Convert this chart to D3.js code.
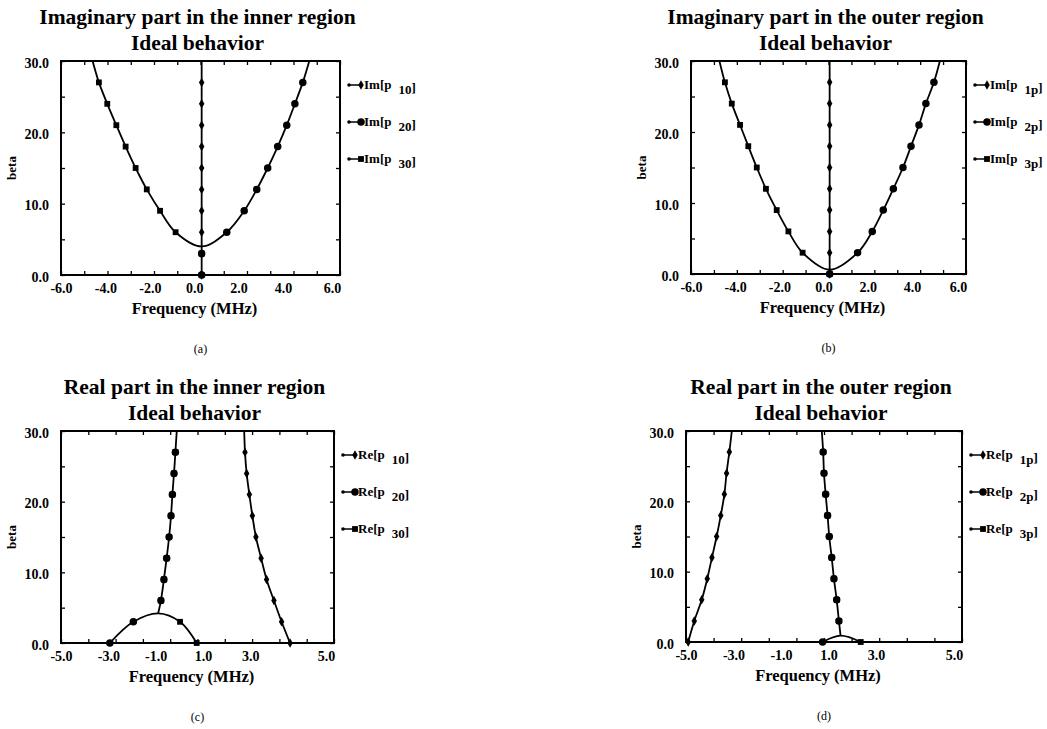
<!DOCTYPE html>
<html>
<head>
<meta charset="utf-8">
<title>Ideal behavior</title>
<script src="https://cdn.jsdelivr.net/npm/d3@7"></script>
<style>
  body { margin: 0; background: #fff; }
  text { font-family: "Liberation Serif", "Times New Roman", serif; fill: #000; }
  .title { font-size: 21.5px; font-weight: bold; }
  .tick text { font-size: 14px; font-weight: bold; }
  .xlab { font-size: 16.5px; font-weight: bold; }
  .ylab { font-size: 13px; font-weight: bold; }
  .legend text { font-size: 13px; font-weight: bold; }
  .caption { font-size: 12px; }
  .box { fill: none; stroke: #000; stroke-width: 2; }
  .curve { fill: none; stroke: #000; stroke-width: 1.8; }
  .minor line { stroke: #000; stroke-width: 1.3; }
</style>
</head>
<body>
<svg id="chart" width="1047" height="729"></svg>
<script>
// beta values where the markers sit
var betaSteps = [0, 3, 6, 9, 12, 15, 18, 21, 24, 27];

// (a) imaginary part, inner region: frequency (MHz) at each beta step
var imInP10 = [0.05, 0.05, 0.05, 0.05, 0.05, 0.05, 0.05, 0.05, 0.05, 0.05];
var imInP20 = [0.05, 0.05, 1.13, 1.88, 2.42, 2.89, 3.32, 3.71, 4.06, 4.40];
var imInP30 = [0.05, 0.05, -1.07, -1.74, -2.31, -2.79, -3.22, -3.62, -4.01, -4.37];
var imInCurves = [
  [[0.05, 0], [0.05, 30]],
  [[-4.64, 30], [-4.37, 27], [-4.01, 24], [-3.62, 21], [-3.22, 18], [-2.79, 15], [-2.31, 12], [-1.74, 9], [-1.07, 6],
   [0.05, 4], [1.13, 6], [1.88, 9], [2.42, 12], [2.89, 15], [3.32, 18], [3.71, 21], [4.06, 24], [4.40, 27], [4.68, 30]]
];

// (b) imaginary part, outer region
var imOutP1p = [0.05, 0.05, 0.05, 0.05, 0.05, 0.05, 0.05, 0.05, 0.05, 0.05];
var imOutP2p = [0.05, 1.27, 1.91, 2.39, 2.83, 3.25, 3.60, 3.95, 4.25, 4.60];
var imOutP3p = [0.05, -1.13, -1.75, -2.26, -2.73, -3.13, -3.50, -3.86, -4.22, -4.52];
var imOutCurves = [
  [[0.05, 0], [0.05, 30]],
  [[-4.76, 30], [-4.52, 27], [-4.22, 24], [-3.86, 21], [-3.50, 18], [-3.13, 15], [-2.73, 12], [-2.26, 9], [-1.75, 6], [-1.13, 3],
   [0.05, 0.6], [1.27, 3], [1.91, 6], [2.39, 9], [2.83, 12], [3.25, 15], [3.60, 18], [3.95, 21], [4.25, 24], [4.60, 27], [4.86, 30]]
];

// (c) real part, inner region
var reInP10 = [3.39, 3.08, 2.80, 2.53, 2.33, 2.14, 2.01, 1.90, 1.80, 1.74];
var reInP20 = [-3.21, -2.35, -1.34, -1.23, -1.13, -1.04, -0.97, -0.92, -0.86, -0.81];
var reInP30 = [-0.03, -0.64, -1.34, -1.23, -1.13, -1.04, -0.97, -0.92, -0.86, -0.81];
var reInCurves = [
  [[3.39, 0], [3.08, 3], [2.80, 6], [2.53, 9], [2.33, 12], [2.14, 15], [2.01, 18], [1.90, 21], [1.80, 24], [1.74, 27], [1.71, 30]],
  [[-3.21, 0], [-2.35, 3], [-1.44, 4.2], [-0.64, 3], [-0.03, 0]],
  [[-1.44, 4.2], [-1.34, 6], [-1.23, 9], [-1.13, 12], [-1.04, 15], [-0.97, 18], [-0.92, 21], [-0.86, 24], [-0.81, 27], [-0.76, 30]]
];

// (d) real part, outer region
var reOutP1p = [-4.92, -4.70, -4.43, -4.23, -4.06, -3.89, -3.74, -3.61, -3.53, -3.43];
var reOutP2p = [-0.05, 0.54, 0.46, 0.36, 0.28, 0.19, 0.13, 0.06, 0.00, -0.03];
var reOutP3p = [1.33, 0.54, 0.46, 0.36, 0.28, 0.19, 0.13, 0.06, 0.00, -0.03];
var reOutCurves = [
  [[-4.92, 0], [-4.70, 3], [-4.43, 6], [-4.23, 9], [-4.06, 12], [-3.89, 15], [-3.74, 18], [-3.61, 21], [-3.53, 24], [-3.43, 27], [-3.34, 30]],
  [[0.60, 0.9], [0.54, 3], [0.46, 6], [0.36, 9], [0.28, 12], [0.19, 15], [0.13, 18], [0.06, 21], [0.00, 24], [-0.03, 27], [-0.08, 30]],
  [[-0.05, 0], [0.60, 0.9], [1.33, 0]]
];

var xTicksIm = [-6, -4, -2, 0, 2, 4, 6];
var xTicksRe = [-5, -3, -1, 1, 3, 5];
var yTicks = [0, 10, 20, 30];

// labSp: spacing the old plot program used between x labels (last one sits at the right edge)
var panels = [
  {box: [61, 61, 340, 275], xd: [-6, 6], xt: xTicksIm, labSp: 44.4, curves: imInCurves,
   series: [imInP30, imInP20, imInP10], names: ['Im[p', '10', '20', '30'],
   title: 'Imaginary part in the inner region', cap: '(a)'},
  {box: [691, 61, 966, 274], xd: [-6, 6], xt: xTicksIm, labSp: 44.2, curves: imOutCurves,
   series: [imOutP3p, imOutP2p, imOutP1p], names: ['Im[p', '1p', '2p', '3p'],
   title: 'Imaginary part in the outer region', cap: '(b)'},
  {box: [61, 431, 334, 643], xd: [-5, 5], xt: xTicksRe, labSp: 47.3, curves: reInCurves,
   series: [reInP30, reInP20, reInP10], names: ['Re[p', '10', '20', '30'],
   title: 'Real part in the inner region', cap: '(c)'},
  {box: [686, 431, 962, 642], xd: [-5, 5], xt: xTicksRe, labSp: 47.5, curves: reOutCurves,
   series: [reOutP3p, reOutP2p, reOutP1p], names: ['Re[p', '1p', '2p', '3p'],
   title: 'Real part in the outer region', cap: '(d)'}
];

// square, circle, diamond (same order as the series lists)
var symbols = [d3.symbolSquare, d3.symbolCircle, d3.symbolDiamond];
var symSizes = [34, 44, 26];

var svg = d3.select('#chart');
var fmt = function(d) { return d.toFixed(1); };

panels.forEach(function(p, pi) {
  var x0 = p.box[0], y0 = p.box[1], x1 = p.box[2], y1 = p.box[3];
  var x = d3.scaleLinear().domain(p.xd).range([x0, x1]);
  var y = d3.scaleLinear().domain([0, 30]).range([y1, y0]);
  var g = svg.append('g');
  var cx = (x0 + x1) / 2 - 3;

  g.append('text').attr('class', 'title').attr('x', cx).attr('y', y0 - 37)
    .attr('text-anchor', 'middle').text(p.title);
  g.append('text').attr('class', 'title').attr('x', cx).attr('y', y0 - 11)
    .attr('text-anchor', 'middle').text('Ideal behavior');

  // minor tick marks on all four sides, pointing inward
  var minorX = d3.range(p.xd[0], p.xd[1] + 0.5, 1);
  var minorY = d3.range(0, 31, 5);
  g.append('g').attr('class', 'minor').attr('transform', 'translate(0,' + y1 + ')')
    .call(d3.axisBottom(x).tickValues(minorX).tickSize(-4).tickFormat(''))
    .select('.domain').remove();
  g.append('g').attr('class', 'minor').attr('transform', 'translate(0,' + y0 + ')')
    .call(d3.axisTop(x).tickValues(minorX).tickSize(-4).tickFormat(''))
    .select('.domain').remove();
  g.append('g').attr('class', 'minor').attr('transform', 'translate(' + x0 + ',0)')
    .call(d3.axisLeft(y).tickValues(minorY).tickSize(-4).tickFormat(''))
    .select('.domain').remove();
  g.append('g').attr('class', 'minor').attr('transform', 'translate(' + x1 + ',0)')
    .call(d3.axisRight(y).tickValues(minorY).tickSize(-4).tickFormat(''))
    .select('.domain').remove();

  // tick labels (placed where the original program put them)
  var n = p.xt.length;
  var labX = d3.scaleLinear().domain([p.xt[0], p.xt[n - 2]]).range([x0, x0 + (n - 2) * p.labSp]);
  var xa = g.append('g').attr('transform', 'translate(0,' + y1 + ')')
    .call(d3.axisBottom(x).tickValues(p.xt).tickSize(0).tickPadding(8).tickFormat(fmt));
  xa.select('.domain').remove();
  xa.selectAll('.tick text').attr('dx', function(d, i) {
    return i === n - 1 ? -8 : labX(d) - x(d);
  });
  var ya = g.append('g').attr('transform', 'translate(' + x0 + ',0)')
    .call(d3.axisLeft(y).tickValues(yTicks).tickSize(0).tickPadding(12).tickFormat(fmt));
  ya.select('.domain').remove();
  ya.selectAll('.tick text').attr('dy', '0.45em');

  g.append('text').attr('class', 'xlab').attr('x', (x0 + x1) / 2 - 6).attr('y', y1 + 39)
    .attr('text-anchor', 'middle').text('Frequency (MHz)');
  g.append('text').attr('class', 'ylab')
    .attr('transform', 'translate(' + (x0 - 45) + ',' + ((y0 + y1) / 2) + ') rotate(-90)')
    .attr('text-anchor', 'middle').text('beta');

  g.append('text').attr('class', 'caption').attr('x', (x0 + x1) / 2).attr('y', y1 + 78)
    .attr('text-anchor', 'middle').text(p.cap);

  // curves
  var clipId = 'clip' + pi;
  g.append('clipPath').attr('id', clipId).append('rect')
    .attr('x', x0).attr('y', y0).attr('width', x1 - x0).attr('height', y1 - y0);
  var line = d3.line().x(function(d) { return x(d[0]); }).y(function(d) { return y(d[1]); })
    .curve(d3.curveCatmullRom.alpha(0.5));
  g.append('g').attr('clip-path', 'url(#' + clipId + ')').selectAll('path')
    .data(p.curves).enter().append('path').attr('class', 'curve').attr('d', line);

  // markers
  p.series.forEach(function(s, si) {
    var sym = d3.symbol().type(symbols[si]).size(symSizes[si]);
    g.append('g').selectAll('path').data(s).enter().append('path')
      .attr('d', sym)
      .attr('transform', function(d, i) { return 'translate(' + x(d) + ',' + y(betaSteps[i]) + ')'; })
      .attr('fill', '#000');
  });

  g.append('rect').attr('class', 'box').attr('x', x0).attr('y', y0)
    .attr('width', x1 - x0).attr('height', y1 - y0);

  // legend: p10/p1p (diamond), p20/p2p (circle), p30/p3p (square)
  var lg = g.append('g').attr('class', 'legend')
    .attr('transform', 'translate(' + (x1 + 9) + ',' + (y0 + 24) + ')');
  [2, 1, 0].forEach(function(si, row) {
    var r = lg.append('g').attr('transform', 'translate(0,' + row * 37 + ')');
    r.append('line').attr('x1', 0).attr('x2', 13).attr('y1', 0).attr('y2', 0)
      .attr('stroke', '#000').attr('stroke-width', 1.5);
    r.append('circle').attr('cx', 0).attr('cy', 0).attr('r', 1.8).attr('fill', '#000');
    r.append('path').attr('d', d3.symbol().type(symbols[si]).size(symSizes[si])())
      .attr('transform', 'translate(12,0)').attr('fill', '#000');
    var t = r.append('text').attr('x', 15).attr('y', 4).text(p.names[0]);
    t.append('tspan').attr('dx', 7).attr('dy', 5).text(p.names[row + 1]);
    t.append('tspan').attr('dy', -2).text(']');
  });
});
</script>
</body>
</html>
